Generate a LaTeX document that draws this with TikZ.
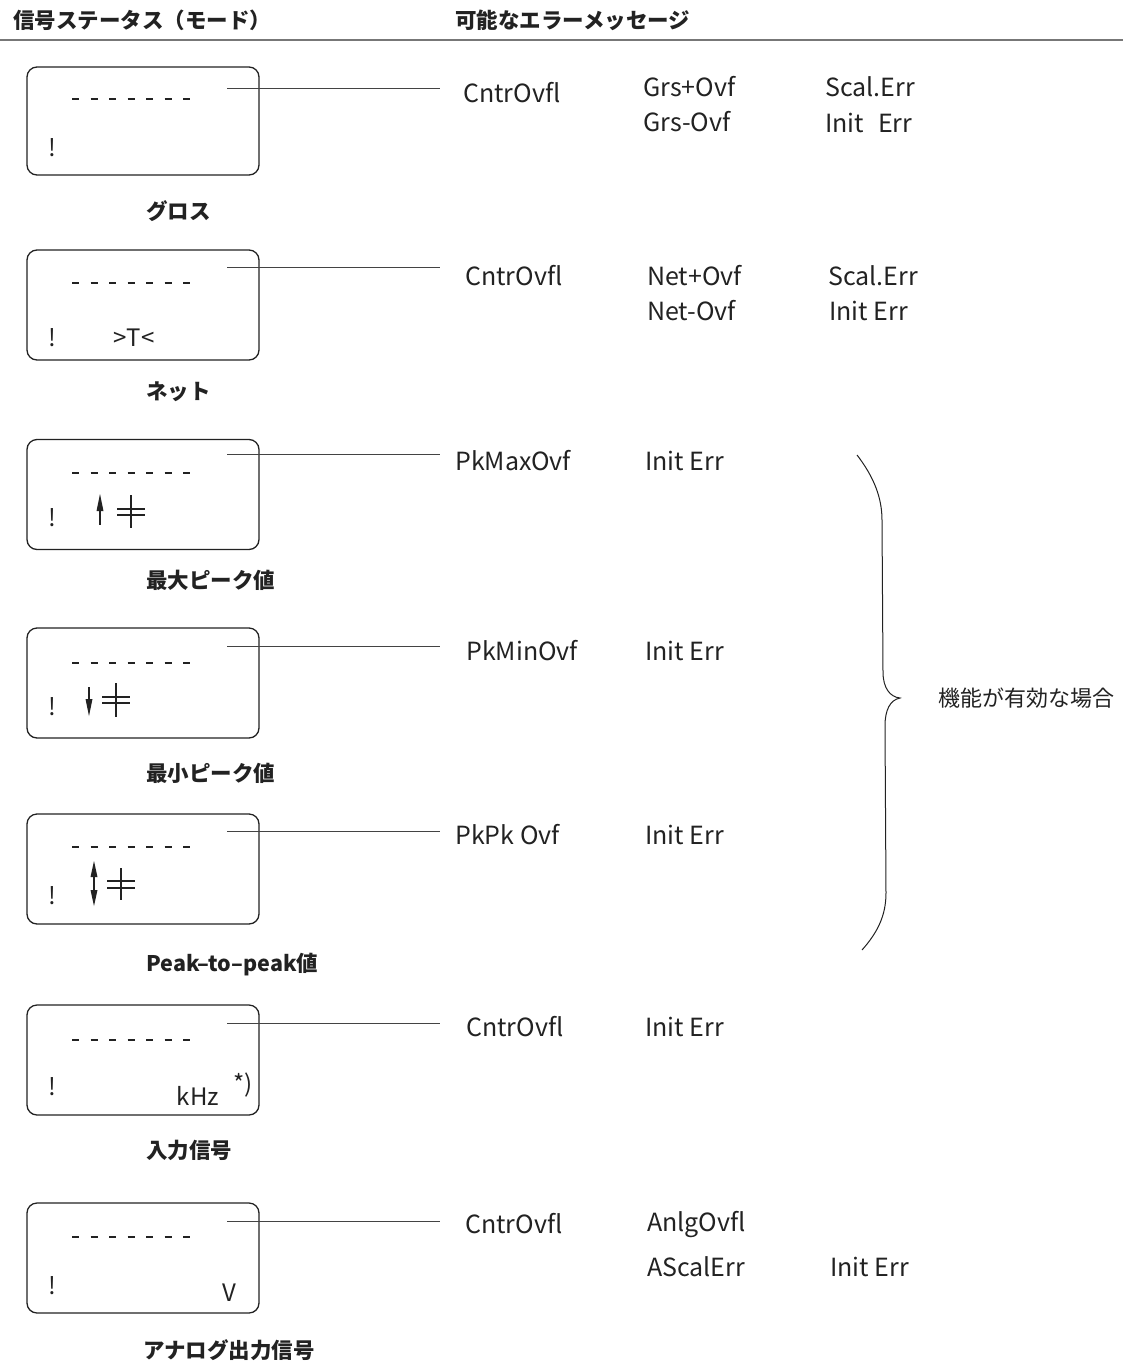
\documentclass[tikz,border=0pt]{standalone}
\usepackage{fontspec}
\setmainfont{Noto Sans CJK JP}
\definecolor{ink}{HTML}{222222}
\definecolor{rule}{HTML}{777777}
\begin{document}
\begin{tikzpicture}[x=1pt,y=-1pt,
  every node/.style={text=ink},
  dispbox/.style={draw=ink, rounded corners=10pt, line width=1.3pt, minimum width=232pt, minimum height=110pt, inner sep=0pt},
  dashrow/.style={draw=ink, line width=1.6pt, dash pattern=on 7pt off 11.5pt},
  conn/.style={draw=ink!85, line width=0.9pt},
  errtext/.style={anchor=west, inner sep=0pt, text height=17pt, text depth=0pt, font=\fontsize{25}{30}\selectfont},
  boxtext/.style={inner sep=0pt, font=\fontsize{24}{28}\selectfont},
  modelabel/.style={anchor=west, inner sep=0pt, font=\fontsize{21.5}{26}\selectfont\bfseries},
  header/.style={anchor=west, inner sep=0pt, font=\fontsize{21.5}{26}\selectfont\bfseries},
  symline/.style={draw=ink, line width=1.3pt},
  arrowhead/.style={fill=ink, draw=none}
]
\useasboundingbox (0,0) rectangle (1123,1363);

% header
\node[header] (h1) at (13,20) {信号ステータス（モード）};
\node[header] (h2) at (455,20) {可能なエラーメッセージ};
\coordinate (rl) at (0,40);
\coordinate (rr) at (1123,40);
\draw[draw=rule, line width=2pt] (rl) -- (rr);

% ---------- boxes ----------
\node[dispbox, minimum height=108pt] (b1) at (143,121) {};
\node[dispbox] (b2) at (143,305) {};
\node[dispbox] (b3) at (143,494.5) {};
\node[dispbox] (b4) at (143,683) {};
\node[dispbox] (b5) at (143,869) {};
\node[dispbox] (b6) at (143,1060) {};
\node[dispbox] (b7) at (143,1258) {};

% dashes
\foreach \y/\n in {99/1,283/2,473/3,663/4,847/5,1040/6,1237/7}{
  \coordinate (d\n a) at (72,\y);
  \coordinate (d\n b) at (190,\y);
  \draw[dashrow] (d\n a) -- (d\n b);
}

% exclamation marks
\foreach \y/\n in {148/1,338/2,518/3,707/4,896/5,1087/6,1286/7}{
  \node[boxtext] (ex\n) at (52,\y) {!};
}
\node[boxtext] (tare) at (134,338) {>T<};
\node[boxtext] (khz) at (198,1096) {kHz};
\node[boxtext, font=\fontsize{24}{28}\selectfont] (star) at (243,1085) {*)};
\node[boxtext] (volt) at (229,1293) {V};

% peak symbols: max
\fill[arrowhead] (100,494) -- (96.5,511) -- (103.5,511) -- cycle;
\draw[symline] (100,510) -- (100,525);
\draw[symline] (117,509) -- (145,509) (117,515) -- (145,515) (131,495) -- (131,528);
% min
\fill[arrowhead] (89,716) -- (85.5,699) -- (92.5,699) -- cycle;
\draw[symline] (89,687) -- (89,700);
\draw[symline] (102,697) -- (130,697) (102,703) -- (130,703) (116,683) -- (116,717);
% peak-to-peak
\fill[arrowhead] (94,861) -- (90.5,877) -- (97.5,877) -- cycle;
\fill[arrowhead] (94,906) -- (90.5,890) -- (97.5,890) -- cycle;
\draw[symline] (94,876) -- (94,891);
\draw[symline] (107,881) -- (135,881) (107,888) -- (135,888) (121,868) -- (121,900);

% connectors
\foreach \y/\n in {88/1,267/2,454/3,646/4,831/5,1023/6,1221/7}{
  \coordinate (cs\n) at (227,\y);
  \coordinate (ce\n) at (440,\y);
  \draw[conn] (cs\n) -- (ce\n);
}

% mode labels
\node[modelabel] (l1) at (146,211) {グロス};
\node[modelabel] (l2) at (146,392) {ネット};
\node[modelabel] (l3) at (146,580) {最大ピーク値};
\node[modelabel] (l4) at (146,773) {最小ピーク値};
\node[modelabel] (l5) at (146,965) {Peak–to–peak値};
\node[modelabel] (l6) at (146,1150) {入力信号};
\node[modelabel] (l7) at (143,1350) {アナログ出力信号};

% error messages
\node[errtext] (e1a) at (463,94) {CntrOvfl};
\node[errtext] (e1b) at (643,88) {Grs+Ovf};
\node[errtext] (e1c) at (643,123) {Grs-Ovf};
\node[errtext] (e1d) at (825,88) {Scal.Err};
\node[errtext] (e1e) at (825,124) {Init\hspace{14pt}Err};

\node[errtext] (e2a) at (465,277) {CntrOvfl};
\node[errtext] (e2b) at (647,277) {Net+Ovf};
\node[errtext] (e2c) at (647,312) {Net-Ovf};
\node[errtext] (e2d) at (828,277) {Scal.Err};
\node[errtext] (e2e) at (829,312) {Init Err};

\node[errtext] (e3a) at (455,462) {PkMaxOvf};
\node[errtext] (e3b) at (645,462) {Init Err};

\node[errtext] (e4a) at (466,652) {PkMinOvf};
\node[errtext] (e4b) at (645,652) {Init Err};

\node[errtext] (e5a) at (455,836) {PkPk Ovf};
\node[errtext] (e5b) at (645,836) {Init Err};

\node[errtext] (e6a) at (466,1028) {CntrOvfl};
\node[errtext] (e6b) at (645,1028) {Init Err};

\node[errtext] (e7a) at (465,1225) {CntrOvfl};
\node[errtext] (e7b) at (647,1223) {AnlgOvfl};
\node[errtext] (e7c) at (647,1268) {AScalErr};
\node[errtext] (e7d) at (830,1268) {Init Err};

% brace
\draw[draw=ink, line width=1pt] (857,455) .. controls (874,477) and (882,498) .. (882,520)
  -- (883,672) .. controls (883,688) and (890,697) .. (900,698)
  .. controls (890,700) and (885,710) .. (885,726)
  -- (886,893) .. controls (886,915) and (878,932) .. (862,950);
\node[anchor=west, inner sep=0pt, font=\fontsize{22}{26}\selectfont] (brtext) at (938,698) {機能が有効な場合};
\end{tikzpicture}
\end{document}
